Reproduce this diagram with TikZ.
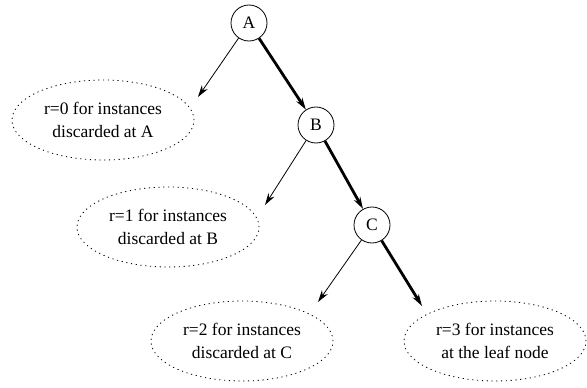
\documentclass[tikz,border=0pt]{standalone}
\usepackage{fontspec}
\setmainfont{Liberation Serif}
\usetikzlibrary{arrows.meta, shapes.geometric}

\begin{document}
\begin{tikzpicture}[x=1pt, y=-1pt,
    every node/.style={font=\fontsize{17.5}{23}\selectfont},
    >={Stealth[length=12pt, width=7pt]},
    vertex/.style={draw, circle, minimum size=36pt, inner sep=0pt, line width=0.8pt},
    outcome/.style={draw, ellipse, dash pattern=on 1.2pt off 3.6pt, line width=0.8pt,
      minimum width=182pt, minimum height=80pt, inner sep=0pt, align=center},
    branch/.style={->, line width=0.8pt},
    path/.style={->, line width=2.8pt}]
  \useasboundingbox (0, 0) rectangle (587, 388);
  \node [vertex] (A) at (249, 23) {A};
  \node [vertex] (B) at (316, 125) {B};
  \node [vertex] (C) at (372, 225) {C};
  \node [outcome] (r0) at (103, 120) {r=0 for instances\\discarded at A};
  \node [outcome] (r1) at (168, 227) {r=1 for instances\\discarded at B};
  \node [outcome] (r2) at (242, 341) {r=2 for instances\\discarded at C};
  \node [outcome] (r3) at (495, 341) {r=3 for instances\\at the leaf node};
  \coordinate (t0) at (198, 97);
  \coordinate (t1) at (265, 205);
  \coordinate (t2) at (318, 302);
  \coordinate (t3) at (422, 306);
  \draw [branch] (A) -- (t0);
  \draw [path] (A) -- (B);
  \draw [branch] (B) -- (t1);
  \draw [path] (B) -- (C);
  \draw [branch] (C) -- (t2);
  \draw [path] (C) -- (t3);
\end{tikzpicture}
\end{document}
